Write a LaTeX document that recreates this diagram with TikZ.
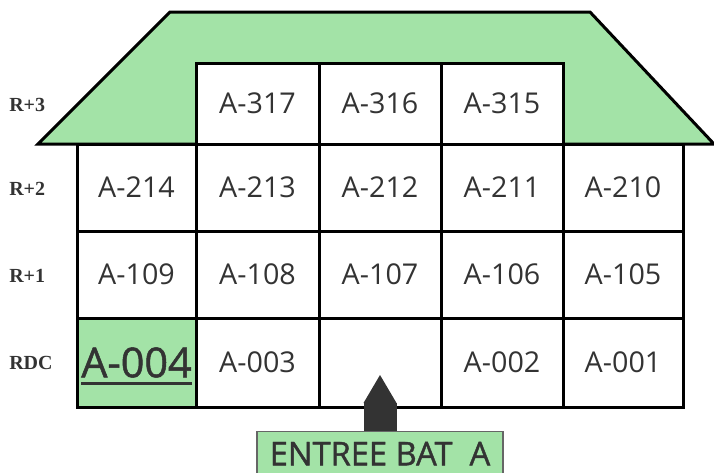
\documentclass[tikz,border=0pt]{standalone}
\usepackage{fontspec}
\setmainfont{Open Sans}
\newfontfamily\floorfont{Liberation Serif}
\newfontfamily\medfont{Open Sans}[FakeBold=1.2]
\usetikzlibrary{arrows.meta}

\definecolor{roofgreen}{RGB}{163,227,167}
\definecolor{inkgray}{RGB}{51,51,51}

\tikzset{
	wall/.style={line width=2.25pt, line join=miter},
	room/.style={text=inkgray, font=\fontsize{21.5}{24}\selectfont, inner sep=0pt},
	floorlabel/.style={text=inkgray, font=\floorfont\bfseries\fontsize{15}{16}\selectfont, anchor=west, inner sep=0pt},
	entrybox/.style={fill=roofgreen, draw=gray!80!black, line width=0.9pt, text=inkgray,
		font=\medfont\fontsize{24.5}{27}\selectfont, minimum width=184.5pt, minimum height=33pt, anchor=north},
	entryarrow/.style={line width=24.75pt, inkgray,
		-{Triangle[length=21pt, width=24.75pt, line width=0pt]}}
}

\begin{document}
\begin{tikzpicture}[x=0.75pt, y=-0.75pt]
			\useasboundingbox (0,0) rectangle (714,472);

			% roof
			\fill [roofgreen] (38,144) -- (170,12) -- (590,12) -- (714,144) -- cycle;
			\draw [wall] (38,144) -- (170,12) -- (590,12) -- (714,144) -- cycle;

			% R+3
			\foreach \xa/\xb/\num in {196/319/317, 319/441/316, 441/563/315} {
				\fill [white] (\xa,63) rectangle (\xb,144);
				\draw [wall] (\xa,63) rectangle (\xb,144);
				\node [room] (r\num) at ({(\xa+\xb)/2},103.5) {A-\num};
			}

			% R+2 and R+1
			\foreach \xa/\xb/\num/\numb in {77/196/214/109, 196/319/213/108, 319/441/212/107,
					441/563/211/106, 563/683/210/105} {
				\draw [wall] (\xa,144) rectangle (\xb,231);
				\node [room] (r\num) at ({(\xa+\xb)/2},187.5) {A-\num};
				\draw [wall] (\xa,231) rectangle (\xb,318);
				\node [room] (r\numb) at ({(\xa+\xb)/2},274.5) {A-\numb};
			}

			% RDC
			\fill [roofgreen] (77,318) rectangle (196,407);
			\foreach \xa/\xb in {77/196, 196/319, 319/441, 441/563, 563/683}
				\draw [wall] (\xa,318) rectangle (\xb,407);
			\node [room, font=\medfont\fontsize{31}{34}\selectfont] (r004) at (136.5,362.5) {A-004};
			\draw [line width=2.25pt, inkgray] ([yshift=-4.5pt]r004.base west) -- ([yshift=-4.5pt]r004.base east);
			\node [room] (r003) at (257.5,362.5) {A-003};
			\coordinate (hall) at (380,375);
			\node [room] (r002) at (502,362.5) {A-002};
			\node [room] (r001) at (623,362.5) {A-001};

			% floors
			\node [floorlabel] (f3) at (9,105) {R+3};
			\node [floorlabel] (f2) at (9,188.5) {R+2};
			\node [floorlabel] (f1) at (9,275.5) {R+1};
			\node [floorlabel] (f0) at (9,363) {RDC};

			% entrance
			\node [entrybox] (entree) at (380,431) {ENTREE BAT\ \ A};
			\draw [entryarrow] (entree.north) -- (hall);
		\end{tikzpicture}
\end{document}
